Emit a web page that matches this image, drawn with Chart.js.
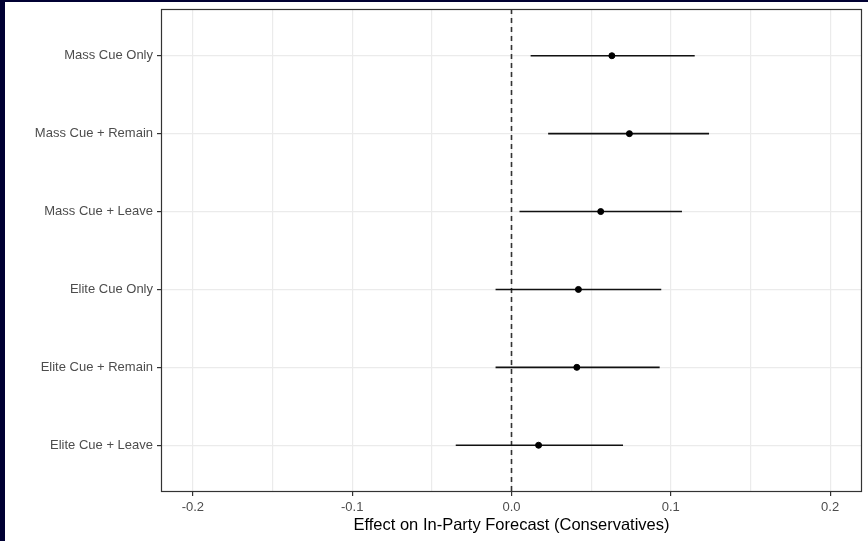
<!DOCTYPE html>
<html>
<head>
<meta charset="utf-8">
<script src="https://cdn.jsdelivr.net/npm/chart.js@4"></script>
<style>
  html, body { margin: 0; padding: 0; background: #000033; width: 868px; height: 541px; overflow: hidden; }
  #wrap { position: absolute; left: 5px; top: 2px; width: 863px; height: 539px; background: #ffffff; }
</style>
</head>
<body>
<div id="wrap"><canvas id="coefChart" width="863" height="539"></canvas></div>
<script>
// treatment conditions, top to bottom
const categories = ['Mass Cue Only', 'Mass Cue + Remain', 'Mass Cue + Leave',
                    'Elite Cue Only', 'Elite Cue + Remain', 'Elite Cue + Leave'];
const estimates = [0.063, 0.074, 0.056, 0.042, 0.041, 0.017];
const lower     = [0.012, 0.023, 0.005, -0.010, -0.010, -0.035];
const upper     = [0.115, 0.124, 0.107, 0.094, 0.093, 0.070];
const xTicks = [-0.2, -0.15, -0.1, -0.05, 0, 0.05, 0.1, 0.15, 0.2];
const xTitle = 'Effect on In-Party Forecast (Conservatives)';

const isMajor = v => Math.abs(Math.round(v * 10) - v * 10) < 1e-6;

// error bars, one little line per row
const ciSets = categories.map((c, i) => ({
    type: 'line',
    data: [{x: lower[i], y: i + 1}, {x: upper[i], y: i + 1}],
    borderColor: '#111111',
    borderWidth: 1.6,
    pointRadius: 0,
    order: 1
}));

// box around the panel like theme_bw
const panelBorder = {
    id: 'panelBorder',
    afterDatasetsDraw(chart) {
        const {ctx, chartArea: a} = chart;
        ctx.save();
        ctx.strokeStyle = '#333333';
        ctx.lineWidth = 1.2;
        ctx.strokeRect(a.left + 0.5, a.top + 0.5, a.right - a.left - 1, a.bottom - a.top - 1);
        ctx.restore();
    }
};

new Chart(document.getElementById('coefChart'), {
    type: 'scatter',
    data: {
        datasets: [
            {
                data: estimates.map((v, i) => ({x: v, y: i + 1})),
                backgroundColor: '#000000',
                borderColor: '#000000',
                pointRadius: 3,
                showLine: false,
                order: 0
            },
            ...ciSets,
            {
                type: 'line',
                data: [{x: 0, y: 0.4}, {x: 0, y: 6.6}],
                borderColor: '#333333',
                borderWidth: 1.6,
                borderDash: [5, 4],
                pointRadius: 0,
                order: 2
            }
        ]
    },
    options: {
        responsive: false,
        animation: false,
        devicePixelRatio: 1,
        layout: { padding: { left: 0, top: 7, right: 6, bottom: 0 } },
        plugins: { legend: { display: false }, tooltip: { enabled: false } },
        scales: {
            x: {
                type: 'linear',
                min: -0.22,
                max: 0.22,
                afterBuildTicks: s => { s.ticks = xTicks.map(v => ({value: v})); },
                afterFit: s => { s.height = 49; s.paddingLeft = 0; s.paddingRight = 0; },
                border: { display: false },
                grid: {
                    color: '#ebebeb',
                    lineWidth: 1.2,
                    tickLength: 4,
                    tickColor: c => isMajor(c.tick.value) ? '#333333' : 'rgba(0,0,0,0)'
                },
                ticks: {
                    autoSkip: false,
                    maxRotation: 0,
                    padding: 4,
                    color: '#4d4d4d',
                    font: { family: 'Liberation Sans, Arial, sans-serif', size: 13 },
                    callback: v => isMajor(v) ? v.toFixed(1) : ''
                },
                title: {
                    display: true,
                    text: xTitle,
                    color: '#000000',
                    padding: { top: 0, bottom: 6 },
                    font: { family: 'Liberation Sans, Arial, sans-serif', size: 16.5 }
                }
            },
            y: {
                type: 'linear',
                reverse: true,
                min: 0.4,
                max: 6.6,
                afterBuildTicks: s => { s.ticks = categories.map((c, i) => ({value: i + 1})); },
                afterFit: s => { s.width = 156; s.paddingTop = 0; s.paddingBottom = 0; },
                border: { display: false },
                grid: { color: '#ebebeb', lineWidth: 1.2, tickLength: 4, tickColor: '#333333' },
                ticks: {
                    autoSkip: false,
                    padding: 4,
                    color: '#4d4d4d',
                    font: { family: 'Liberation Sans, Arial, sans-serif', size: 13 },
                    callback: v => categories[v - 1]
                }
            }
        }
    },
    plugins: [panelBorder]
});
</script>
</body>
</html>
